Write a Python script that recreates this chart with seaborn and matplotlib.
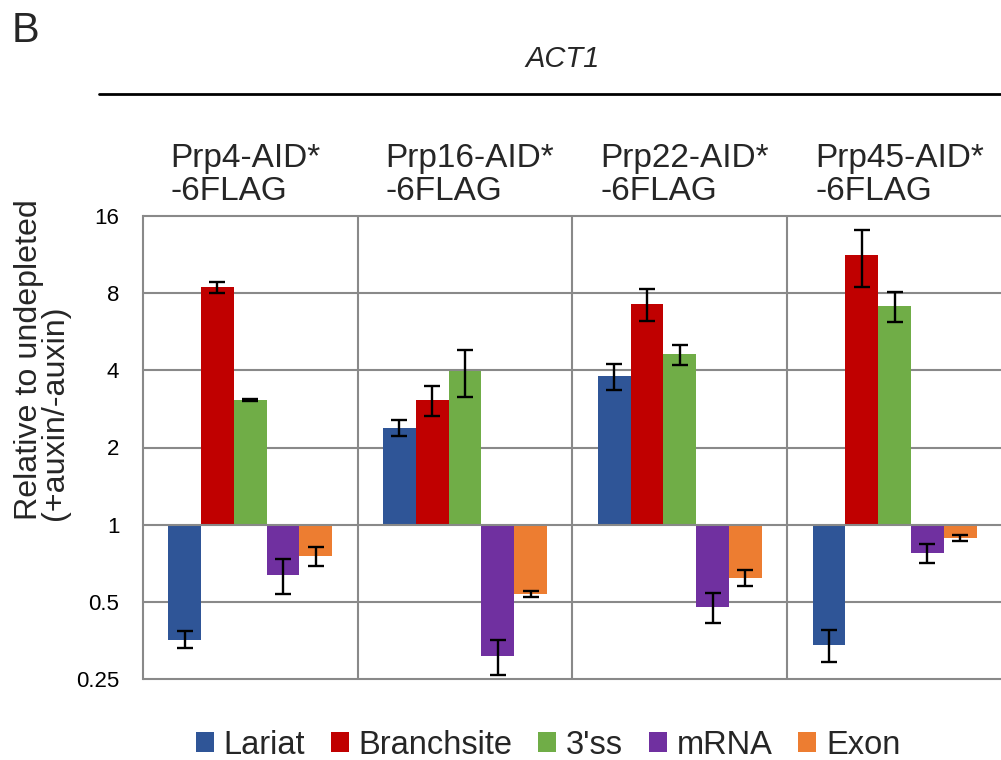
import numpy as np
import pandas as pd
import matplotlib
matplotlib.use("Agg")
import matplotlib.pyplot as plt
from matplotlib.patches import Patch
from matplotlib.lines import Line2D
from matplotlib.transforms import blended_transform_factory
import seaborn as sns

# ---- data ----------------------------------------------------------------
strains = ["Prp4", "Prp16", "Prp22", "Prp45"]
strain_titles = ["Prp4-AID*\n-6FLAG", "Prp16-AID*\n-6FLAG",
                 "Prp22-AID*\n-6FLAG", "Prp45-AID*\n-6FLAG"]
species = ["Lariat", "Branchsite", "3'ss", "mRNA", "Exon"]
colors = ["#2F5597", "#C00000", "#70AD47", "#7030A0", "#ED7D31"]

# fold change (+auxin / -auxin), one value per strain
lariat     = [0.357, 2.39, 3.79, 0.341]
branchsite = [8.43, 3.06, 7.27, 11.26]
ss3        = [3.06, 3.98, 4.61, 7.11]
mrna       = [0.637, 0.309, 0.478, 0.776]
exon       = [0.755, 0.537, 0.622, 0.89]

# standard deviations (linear units)
lariat_sd     = [0.027, 0.18, 0.43, 0.049]
branchsite_sd = [0.41, 0.41, 1.05, 2.83]
ss3_sd        = [0.03, 0.82, 0.40, 0.97]
mrna_sd       = [0.10, 0.048, 0.064, 0.067]
exon_sd       = [0.063, 0.015, 0.045, 0.023]

tick_values = [0.25, 0.5, 1, 2, 4, 8, 16]
tick_labels = ["0.25", "0.5", "1", "2", "4", "8", "16"]

values = [lariat, branchsite, ss3, mrna, exon]
sds = [lariat_sd, branchsite_sd, ss3_sd, mrna_sd, exon_sd]

rows = []
for sp, vals in zip(species, values):
    for st, v in zip(strains, vals):
        rows.append({"strain": st, "species": sp, "log2fc": np.log2(v)})
df = pd.DataFrame(rows)

# ---- style ---------------------------------------------------------------
sns.set_style("white")
plt.rcParams["font.family"] = ["Liberation Sans", "DejaVu Sans"]

W, H = 1001, 760
fig = plt.figure(figsize=(W / 100, H / 100), dpi=100)


def fx(x):
    return x / W


def fy(y):
    return 1 - y / H


ax = fig.add_axes([fx(142.7), fy(679.3), fx(1002) - fx(142.7), fy(215.7) - fy(679.3)])

grid_gray = "#898989"

sns.barplot(data=df, x="strain", y="log2fc", hue="species", order=strains,
            hue_order=species, palette=colors, saturation=1, width=0.763,
            gap=0, errorbar=None, legend=False, linewidth=0, ax=ax, zorder=2)

# error bars on each bar, centred on the bar tips
for cont, vals, sd in zip(ax.containers, values, sds):
    for bar, v, s in zip(cont.patches, vals, sd):
        xc = bar.get_x() + bar.get_width() / 2
        y = np.log2(v)
        lo = np.log2(v - s)
        hi = np.log2(v + s)
        ax.errorbar(xc, y, yerr=[[y - lo], [hi - y]], fmt="none",
                    ecolor="black", elinewidth=1.7, capsize=5.8,
                    capthick=1.7, zorder=4)

ax.set_xlim(-0.5, 3.5)
ax.set_ylim(-2, 4)
ticks = np.log2(tick_values)
ax.set_yticks(ticks)
ax.set_yticklabels(tick_labels)
ax.set_xticks([])
ax.set_xlabel("")
ax.set_ylabel("")

for t in ticks:
    ax.axhline(t, color=grid_gray, lw=1.5, zorder=0.5 if t != 0 else 3,
               clip_on=False)
for xs in [0.5, 1.5, 2.5]:
    ax.axvline(xs, color=grid_gray, lw=1.5, zorder=0.5)

for side in ["top", "right", "bottom"]:
    ax.spines[side].set_visible(False)
ax.spines["left"].set_color(grid_gray)
ax.spines["left"].set_linewidth(1.5)
ax.tick_params(axis="y", length=5.8, width=1.5, color=grid_gray, pad=11,
               labelsize=16, labelcolor="black")

# ---- titles and labels ----------------------------------------------------
fig.text(fx(12), fy(11), "B", fontsize=30, ha="left", va="top")
fig.text(fx(563), fy(67), "ACT1", fontsize=21, style="italic",
         ha="center", va="baseline")
fig.add_artist(Line2D([fx(99.3), 1.0], [fy(94.3), fy(94.3)],
                      transform=fig.transFigure, color="black", lw=2))

# strain titles sit left-aligned just inside each panel
trans = blended_transform_factory(ax.transData, fig.transFigure)
for i, title in enumerate(strain_titles):
    ax.text(i - 0.37, fy(200), title, transform=trans, fontsize=24,
            ha="left", va="baseline", multialignment="left",
            linespacing=1.1)

fig.text(fx(42), fy(520), "Relative to undepleted\n(+auxin/-auxin)",
         rotation=90, fontsize=23.2, ha="center", va="bottom",
         multialignment="left", linespacing=0.8)

handles = [Patch(facecolor=c, edgecolor="none") for c in colors]
fig.legend(handles, species, loc="center", ncol=5, frameon=False,
           bbox_to_anchor=(fx(548), fy(745)), fontsize=23.5,
           handlelength=0.56, handleheight=0.56, handletextpad=0.3,
           columnspacing=0.78, borderaxespad=0, borderpad=0)

fig.savefig("out.png", dpi=100)
